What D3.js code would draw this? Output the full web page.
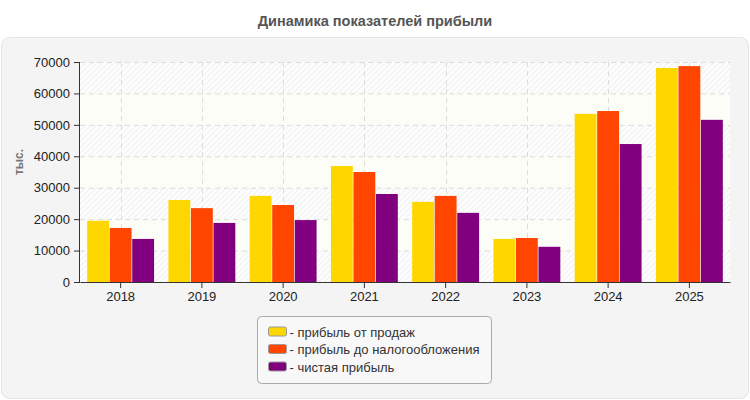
<!DOCTYPE html>
<html>
<head>
<meta charset="utf-8">
<script src="https://cdn.jsdelivr.net/npm/d3@7"></script>
<style>
  body { margin: 0; background: #fff; }
  svg { display: block; font-family: "Liberation Sans", Arial, sans-serif; }
</style>
</head>
<body>
<div id="chart"></div>
<script>
const years = ['2018', '2019', '2020', '2021', '2022', '2023', '2024', '2025'];
const salesProfit = [19500, 26100, 27400, 36900, 25500, 13700, 53500, 68100];
const preTaxProfit = [17200, 23500, 24500, 35000, 27400, 14000, 54400, 68700];
const netProfit = [13700, 18800, 19700, 28000, 22000, 11200, 43900, 51600];
const seriesNames = ['- прибыль от продаж', '- прибыль до налогообложения', '- чистая прибыль'];
const seriesColors = ['#ffd700', '#ff4500', '#800080'];
const yTicks = [0, 10000, 20000, 30000, 40000, 50000, 60000, 70000];

const W = 750, H = 400;
const M = { top: 62, right: 20, bottom: 118, left: 80 };
const iW = W - M.left - M.right;
const iH = H - M.top - M.bottom;

const svg = d3.select('#chart').append('svg')
  .attr('width', W).attr('height', H);

const defs = svg.append('defs');
const pat = defs.append('pattern')
  .attr('id', 'hatch')
  .attr('width', 4).attr('height', 4)
  .attr('patternUnits', 'userSpaceOnUse')
  .attr('patternTransform', 'rotate(45)');
pat.append('rect').attr('width', 4).attr('height', 4).attr('fill', '#fdfdfd');
pat.append('line')
  .attr('x1', 0).attr('y1', 0).attr('x2', 0).attr('y2', 4)
  .attr('stroke', '#ececec').attr('stroke-width', 1.5);

// title
svg.append('text')
  .attr('x', W / 2).attr('y', 26)
  .attr('text-anchor', 'middle')
  .attr('font-size', 14.5).attr('font-weight', 'bold')
  .attr('fill', '#555')
  .text('Динамика показателей прибыли');

// outer panel
svg.append('rect')
  .attr('x', 1.5).attr('y', 37.5)
  .attr('width', W - 3).attr('height', H - 39)
  .attr('rx', 8)
  .attr('fill', '#f4f4f4')
  .attr('stroke', '#e4e4e4');

const g = svg.append('g').attr('transform', `translate(${M.left},${M.top})`);

const x0 = d3.scaleBand().domain(years).range([0, iW]).paddingInner(0.16).paddingOuter(0.08);
const x1 = d3.scaleBand().domain([0, 1, 2]).range([0, x0.bandwidth()]).padding(0.03);
const y = d3.scaleLinear().domain([0, 70000]).range([iH, 0]);

// alternating bands
g.selectAll('.band')
  .data(yTicks.slice(0, -1))
  .join('rect')
  .attr('class', 'band')
  .attr('x', 0).attr('width', iW)
  .attr('y', d => y(d + 10000))
  .attr('height', d => y(d) - y(d + 10000))
  .attr('fill', (d, i) => i % 2 === 0 ? 'url(#hatch)' : '#fdfdf7');

// grid
g.append('g')
  .selectAll('line')
  .data(yTicks.slice(1))
  .join('line')
  .attr('x1', 0).attr('x2', iW)
  .attr('y1', d => y(d) + 0.5).attr('y2', d => y(d) + 0.5)
  .attr('stroke', '#dcdcdc')
  .attr('stroke-dasharray', '5,4');

g.append('g')
  .selectAll('line')
  .data(years)
  .join('line')
  .attr('x1', d => Math.round(x0(d) + x0.bandwidth() / 2) + 0.5)
  .attr('x2', d => Math.round(x0(d) + x0.bandwidth() / 2) + 0.5)
  .attr('y1', 0).attr('y2', iH)
  .attr('stroke', '#dcdcdc')
  .attr('stroke-dasharray', '5,4');

// bars
const rows = years.map((yr, i) => ({ yr, vals: [salesProfit[i], preTaxProfit[i], netProfit[i]] }));
g.selectAll('.grp')
  .data(rows)
  .join('g')
  .attr('class', 'grp')
  .attr('transform', d => `translate(${x0(d.yr)},0)`)
  .selectAll('rect')
  .data(d => d.vals)
  .join('rect')
  .attr('x', (d, i) => x1(i))
  .attr('width', x1.bandwidth())
  .attr('y', d => y(d))
  .attr('height', d => iH - y(d))
  .attr('fill', (d, i) => seriesColors[i]);

// axes
g.append('g')
  .call(d3.axisLeft(y).tickValues(yTicks).tickSize(6).tickPadding(4).tickFormat(d3.format('d')))
  .call(ax => ax.select('.domain').attr('stroke', '#333').attr('d', `M-0.5,0V${iH}`))
  .call(ax => ax.selectAll('.tick line').attr('stroke', '#333'))
  .call(ax => ax.selectAll('text').attr('font-size', 13).attr('fill', '#222')
    .attr('font-family', '"Liberation Sans", Arial, sans-serif'));

g.append('g')
  .attr('transform', `translate(0,${iH})`)
  .call(d3.axisBottom(x0).tickSize(6).tickPadding(4).tickSizeOuter(0))
  .call(ax => ax.select('.domain').attr('stroke', '#333'))
  .call(ax => ax.selectAll('.tick line').attr('stroke', '#333'))
  .call(ax => ax.selectAll('text').attr('font-size', 13).attr('fill', '#222')
    .attr('font-family', '"Liberation Sans", Arial, sans-serif'));

g.append('text')
  .attr('transform', 'rotate(-90)')
  .attr('x', -iH / 2 + 10).attr('y', -57)
  .attr('text-anchor', 'middle')
  .attr('font-size', 12).attr('font-weight', 'bold')
  .attr('fill', '#777')
  .text('тыс.');

// legend
const leg = svg.append('g').attr('transform', 'translate(257.5,316.5)');
leg.append('rect')
  .attr('width', 234).attr('height', 67)
  .attr('rx', 4)
  .attr('fill', '#f8f8f8')
  .attr('stroke', '#aaa');
seriesNames.forEach((name, i) => {
  leg.append('rect')
    .attr('x', 11).attr('y', 10.5 + i * 17.5)
    .attr('width', 18).attr('height', 9)
    .attr('rx', 2)
    .attr('fill', seriesColors[i])
    .attr('stroke', '#999');
  leg.append('text')
    .attr('x', 32).attr('y', 20 + i * 17.5)
    .attr('font-size', 13).attr('fill', '#333')
    .text(name);
});
</script>
</body>
</html>
